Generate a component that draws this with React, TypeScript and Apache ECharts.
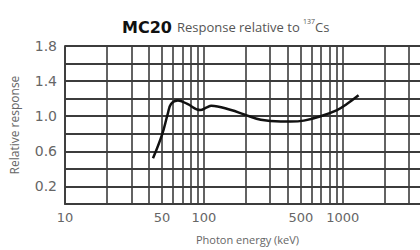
import React, { useEffect, useRef } from "react";
import * as echarts from "echarts";

const energies = [43, 50, 55, 58, 65, 76, 94, 105, 113, 157, 195, 257, 357, 420, 524, 692, 910, 1070, 1300];
const responses = [0.52, 0.79, 1.03, 1.14, 1.18, 1.14, 1.07, 1.1, 1.12, 1.07, 1.02, 0.96, 0.94, 0.94, 0.95, 1.0, 1.07, 1.14, 1.24];
const xGridValues = [10, 20, 30, 40, 50, 60, 70, 80, 90, 100, 200, 300, 400, 500, 600, 700, 800, 900, 1000, 2000, 3000];
const xLabelValues = [10, 50, 100, 500, 1000];
const yLabelValues = [0.2, 0.6, 1.0, 1.4, 1.8];

export default function App() {
  const ref = useRef<HTMLDivElement>(null);
  useEffect(() => {
    if (!ref.current) return;
    const chart = echarts.init(ref.current, null, { renderer: "svg" });
    const gridColor = "#3c3c3c";
    chart.setOption({
      animation: false,
      backgroundColor: "#fff",
      title: {
        text: "{a|MC20} {b|Response relative to }{s|137}{b|Cs}",
        left: 117,
        top: 13,
        textStyle: {
          fontWeight: "normal",
          rich: {
            a: { fontFamily: "DejaVu Sans", fontWeight: "bold", fontSize: 16, color: "#111" },
            b: { fontFamily: "Open Sans", fontWeight: "normal", fontSize: 13, color: "#555" },
            s: { fontFamily: "Open Sans", fontWeight: "normal", fontSize: 7, color: "#555", verticalAlign: "top", padding: [0, 0, 8, 0] },
          },
        },
      },
      grid: { left: 63, right: 0, top: 46, bottom: 43 },
      xAxis: {
        type: "log",
        logBase: 10,
        min: 10,
        max: 3600,
        name: "Photon energy (keV)",
        nameLocation: "middle",
        nameGap: 30,
        nameTextStyle: { fontFamily: "Open Sans", fontSize: 11, color: "#666", padding: [0, 0, 0, 10] },
        axisLine: { show: true, lineStyle: { color: gridColor, width: 1.8 } },
        axisTick: { show: false, customValues: xGridValues },
        axisLabel: {
          customValues: xLabelValues,
          fontFamily: "DejaVu Sans",
          fontSize: 13,
          color: "#666",
          margin: 7,
          formatter: (v: number) => String(Math.round(v)),
        },
        splitLine: { show: true, lineStyle: { color: gridColor, width: 1.6 } },
      },
      yAxis: {
        type: "value",
        min: 0,
        max: 1.8,
        interval: 0.2,
        name: "Relative response",
        nameLocation: "middle",
        nameGap: 45,
        nameTextStyle: { fontFamily: "Open Sans", fontSize: 12, color: "#666" },
        axisLine: { show: true, lineStyle: { color: gridColor, width: 1.8 } },
        axisTick: { show: false },
        axisLabel: {
          fontFamily: "DejaVu Sans",
          fontSize: 14,
          color: "#666",
          margin: 8,
          formatter: (v: number) =>
            yLabelValues.some((y) => Math.abs(y - v) < 1e-6) ? v.toFixed(1) : "",
        },
        splitLine: { show: true, lineStyle: { color: gridColor, width: 1.8 } },
      },
      series: [
        {
          type: "line",
          data: energies.map((e, i) => [e, responses[i]]),
          smooth: 0.4,
          symbol: "none",
          lineStyle: { color: "#111", width: 2.5 },
        },
      ],
    });
    return () => chart.dispose();
  }, []);
  return <div ref={ref} style={{ width: 420, height: 250, position: "absolute", left: 0, top: 0 }} />;
}
